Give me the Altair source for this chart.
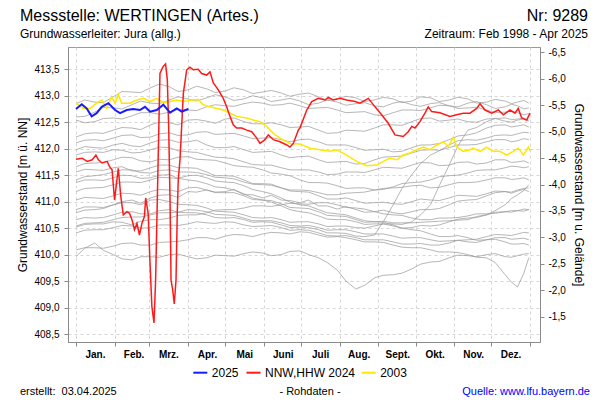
import json
import altair as alt
import pandas as pd

FONT = "Liberation Sans"

# ---------------- axis data ----------------
MONTH_STARTS = [0, 31, 59, 90, 120, 151, 181, 212, 243, 273, 304, 334, 365]
MONTH_LABELS = ["Jan.", "Feb.", "Mrz.", "Apr.", "Mai", "Juni", "Juli", "Aug.",
                "Sept.", "Okt.", "Nov.", "Dez.", ""]
LEFT_TICKS = [408.5, 409.0, 409.5, 410.0, 410.5, 411.0, 411.5, 412.0, 412.5, 413.0, 413.5]
RIGHT_TICKS = [-6.5, -6.0, -5.5, -5.0, -4.5, -4.0, -3.5, -3.0, -2.5, -2.0, -1.5]

# ---------------- gray yearly lines (day of year, m NN) ----------------
GRAY_DAYS = [0, 7, 15, 22, 30, 37, 45, 52, 60, 67, 75, 82, 90, 97, 105, 112, 120, 127, 135, 142,
             150, 157, 165, 172, 180, 187, 195, 202, 210, 217, 225, 232, 240, 247, 255, 262, 270,
             277, 285, 292, 300, 307, 315, 322, 330, 337, 345, 350, 355, 360, 364]
G1 = [412.85, 412.92, 412.88, 412.87, 412.98, 413.08, 413.07, 413.06, 413.15, 413.22, 413.17, 413.08, 413.11, 413.18, 413.13, 413.06, 413.09, 413.15, 413.11, 413.04, 413.07, 413.10, 413.05, 412.99, 413.03, 413.05, 412.98, 412.91, 412.94, 412.99, 412.96, 412.89, 412.92, 412.97, 412.94, 412.87, 412.90, 412.98, 412.96, 412.89, 412.92, 412.97, 412.94, 412.86, 412.88, 412.93, 412.90, 412.85, 412.88, 412.91, 412.86]
G2 = [412.60, 412.61, 412.69, 412.78, 412.77, 412.75, 412.83, 412.90, 412.86, 412.85, 412.92, 412.98, 412.94, 412.90, 412.96, 413.02, 412.98, 412.91, 412.94, 413.00, 412.96, 412.89, 412.92, 412.95, 412.90, 412.83, 412.86, 412.92, 412.88, 412.82, 412.85, 412.87, 412.81, 412.79, 412.86, 412.89, 412.83, 412.80, 412.85, 412.87, 412.81, 412.79, 412.86, 412.89, 412.83, 412.76, 412.79, 412.84, 412.81, 412.75, 412.77]
G3 = [412.54, 412.49, 412.51, 412.57, 412.58, 412.56, 412.62, 412.68, 412.68, 412.65, 412.69, 412.74, 412.73, 412.72, 412.79, 412.83, 412.81, 412.80, 412.85, 412.88, 412.86, 412.82, 412.83, 412.86, 412.81, 412.76, 412.77, 412.78, 412.73, 412.68, 412.69, 412.70, 412.64, 412.62, 412.68, 412.73, 412.73, 412.72, 412.77, 412.82, 412.81, 412.76, 412.77, 412.78, 412.73, 412.68, 412.69, 412.71, 412.68, 412.64, 412.66]
G4 = [412.22, 412.28, 412.30, 412.29, 412.35, 412.40, 412.39, 412.36, 412.45, 412.50, 412.49, 412.45, 412.54, 412.55, 412.52, 412.48, 412.56, 412.58, 412.51, 412.47, 412.47, 412.49, 412.45, 412.40, 412.41, 412.42, 412.35, 412.29, 412.30, 412.35, 412.34, 412.33, 412.39, 412.45, 412.45, 412.44, 412.51, 412.57, 412.58, 412.52, 412.54, 412.56, 412.51, 412.50, 412.56, 412.57, 412.52, 412.50, 412.54, 412.56, 412.52]
G5 = [412.11, 412.16, 412.17, 412.15, 412.20, 412.25, 412.26, 412.21, 412.22, 412.28, 412.30, 412.25, 412.26, 412.31, 412.32, 412.27, 412.28, 412.29, 412.24, 412.19, 412.20, 412.21, 412.17, 412.13, 412.17, 412.18, 412.13, 412.07, 412.07, 412.07, 412.02, 411.97, 411.98, 411.99, 411.94, 411.95, 412.02, 412.07, 412.07, 412.10, 412.17, 412.24, 412.26, 412.30, 412.39, 412.44, 412.45, 412.41, 412.43, 412.45, 412.41]
G6 = [411.98, 412.04, 412.02, 412.01, 412.07, 412.10, 412.05, 412.04, 412.11, 412.16, 412.17, 412.12, 412.13, 412.16, 412.07, 412.02, 412.02, 412.04, 411.98, 411.93, 411.94, 411.95, 411.88, 411.83, 411.85, 411.86, 411.79, 411.74, 411.75, 411.76, 411.71, 411.72, 411.79, 411.84, 411.85, 411.86, 411.92, 411.97, 411.98, 411.97, 412.02, 412.07, 412.07, 412.08, 412.13, 412.17, 412.17, 412.13, 412.15, 412.19, 412.17]
G7 = [411.88, 411.93, 411.94, 411.93, 411.98, 411.97, 411.92, 411.93, 411.98, 412.03, 412.02, 411.96, 411.94, 411.93, 411.88, 411.84, 411.83, 411.81, 411.75, 411.70, 411.69, 411.69, 411.64, 411.60, 411.60, 411.60, 411.56, 411.51, 411.52, 411.56, 411.56, 411.55, 411.60, 411.65, 411.64, 411.63, 411.69, 411.74, 411.73, 411.68, 411.69, 411.74, 411.75, 411.71, 411.73, 411.79, 411.79, 411.74, 411.75, 411.77, 411.73]
G8 = [411.66, 411.72, 411.73, 411.74, 411.79, 411.84, 411.83, 411.77, 411.75, 411.80, 411.79, 411.84, 411.85, 411.80, 411.79, 411.78, 411.73, 411.68, 411.66, 411.65, 411.60, 411.54, 411.52, 411.49, 411.41, 411.36, 411.36, 411.35, 411.30, 411.25, 411.26, 411.26, 411.22, 411.23, 411.28, 411.34, 411.36, 411.37, 411.41, 411.47, 411.49, 411.50, 411.54, 411.59, 411.60, 411.60, 411.64, 411.67, 411.66, 411.64, 411.66]
G9 = [411.56, 411.61, 411.60, 411.59, 411.64, 411.66, 411.58, 411.58, 411.64, 411.69, 411.69, 411.64, 411.64, 411.63, 411.56, 411.49, 411.49, 411.48, 411.41, 411.34, 411.34, 411.33, 411.26, 411.20, 411.19, 411.18, 411.11, 411.05, 411.05, 411.07, 411.02, 410.97, 410.98, 410.99, 410.96, 410.95, 411.00, 411.05, 411.03, 411.02, 411.07, 411.12, 411.11, 411.10, 411.15, 411.20, 411.19, 411.16, 411.20, 411.23, 411.19]
G10 = [411.41, 411.47, 411.49, 411.51, 411.56, 411.60, 411.60, 411.55, 411.54, 411.59, 411.60, 411.56, 411.56, 411.55, 411.51, 411.46, 411.45, 411.43, 411.37, 411.33, 411.32, 411.31, 411.26, 411.22, 411.22, 411.21, 411.17, 411.13, 411.13, 411.16, 411.17, 411.18, 411.22, 411.25, 411.26, 411.27, 411.30, 411.31, 411.26, 411.27, 411.32, 411.36, 411.36, 411.37, 411.41, 411.45, 411.45, 411.42, 411.43, 411.45, 411.41]
G11 = [411.36, 411.41, 411.41, 411.40, 411.45, 411.50, 411.49, 411.44, 411.45, 411.50, 411.51, 411.44, 411.41, 411.39, 411.34, 411.28, 411.26, 411.22, 411.15, 411.07, 411.03, 410.99, 410.92, 410.85, 410.81, 410.79, 410.73, 410.67, 410.66, 410.66, 410.62, 410.57, 410.58, 410.58, 410.54, 410.50, 410.51, 410.55, 410.54, 410.56, 410.62, 410.67, 410.69, 410.70, 410.75, 410.80, 410.81, 410.80, 410.83, 410.86, 410.85]
G12 = [411.19, 411.25, 411.26, 411.27, 411.32, 411.37, 411.37, 411.36, 411.41, 411.46, 411.45, 411.44, 411.49, 411.50, 411.45, 411.39, 411.37, 411.36, 411.30, 411.23, 411.19, 411.15, 411.07, 410.99, 410.94, 410.92, 410.85, 410.79, 410.77, 410.75, 410.69, 410.64, 410.62, 410.61, 410.56, 410.50, 410.47, 410.45, 410.39, 410.34, 410.34, 410.36, 410.32, 410.27, 410.28, 410.32, 410.32, 410.29, 410.30, 410.31, 410.28]
G13 = [410.79, 410.84, 410.85, 410.87, 410.94, 410.98, 410.98, 410.94, 411.03, 411.04, 411.00, 410.95, 410.94, 410.93, 410.88, 410.82, 410.81, 410.80, 410.75, 410.70, 410.69, 410.70, 410.66, 410.61, 410.62, 410.62, 410.58, 410.53, 410.54, 410.54, 410.51, 410.50, 410.54, 410.58, 410.58, 410.57, 410.62, 410.75, 410.94, 411.30, 411.69, 412.05, 412.35, 412.40, 412.51, 412.57, 412.58, 412.55, 412.56, 412.58, 412.54]
G14 = [410.66, 410.70, 410.69, 410.70, 410.75, 410.80, 410.81, 410.77, 410.77, 410.83, 410.85, 410.80, 410.79, 410.79, 410.75, 410.70, 410.69, 410.70, 410.66, 410.61, 410.62, 410.61, 410.56, 410.51, 410.52, 410.51, 410.47, 410.41, 410.41, 410.40, 410.35, 410.34, 410.37, 410.62, 410.94, 411.25, 411.51, 411.72, 411.88, 411.96, 412.07, 412.15, 412.17, 412.16, 412.20, 412.25, 412.26, 412.25, 412.28, 412.31, 412.30]
G15 = [410.52, 410.57, 410.58, 410.58, 410.62, 410.61, 410.56, 410.63, 410.66, 410.66, 410.69, 410.74, 410.75, 410.75, 410.79, 410.84, 410.85, 410.85, 410.88, 410.92, 410.92, 410.91, 410.94, 410.97, 410.96, 410.95, 410.98, 410.98, 410.94, 410.89, 410.88, 410.86, 410.81, 410.77, 410.75, 410.74, 410.69, 410.66, 410.66, 410.69, 410.69, 410.70, 410.73, 410.77, 410.77, 410.78, 410.81, 410.83, 410.83, 410.82, 410.85]
G16 = [410.41, 410.46, 410.47, 410.47, 410.51, 410.55, 410.54, 410.50, 410.51, 410.56, 410.56, 410.55, 410.58, 410.62, 410.60, 410.59, 410.62, 410.61, 410.56, 410.53, 410.54, 410.55, 410.51, 410.46, 410.47, 410.46, 410.41, 410.36, 410.35, 410.36, 410.32, 410.28, 410.28, 410.28, 410.24, 410.20, 410.20, 410.21, 410.18, 410.18, 410.22, 410.27, 410.28, 410.29, 410.34, 410.38, 410.37, 410.36, 410.39, 410.42, 410.41]
G17 = [409.96, 410.12, 410.22, 410.08, 410.00, 409.92, 409.90, 409.96, 409.96, 409.95, 410.00, 410.01, 409.96, 409.92, 409.94, 409.99, 409.98, 409.97, 410.02, 410.05, 410.03, 409.98, 410.00, 410.06, 410.07, 410.00, 409.94, 409.85, 409.71, 409.50, 409.35, 409.42, 409.56, 409.61, 409.62, 409.65, 409.73, 409.82, 409.86, 409.87, 409.94, 409.99, 409.98, 409.96, 410.00, 410.02, 409.96, 409.95, 409.98, 410.01, 410.02]
G18 = [410.09, 410.13, 410.13, 410.12, 410.16, 410.21, 410.22, 410.18, 410.18, 410.23, 410.24, 410.25, 410.28, 410.32, 410.32, 410.29, 410.35, 410.38, 410.37, 410.34, 410.39, 410.42, 410.41, 410.39, 410.43, 410.42, 410.37, 410.33, 410.34, 410.32, 410.28, 410.24, 410.24, 410.23, 410.18, 410.14, 410.13, 410.13, 410.09, 410.05, 410.05, 410.04, 410.00, 409.95, 409.94, 409.85, 409.62, 409.48, 409.39, 409.65, 409.94]
G19 = [410.54, 410.59, 410.60, 410.61, 410.66, 410.70, 410.71, 410.71, 410.75, 410.79, 410.79, 410.80, 410.85, 410.84, 410.81, 410.76, 410.75, 410.74, 410.69, 410.64, 410.64, 410.64, 410.60, 410.55, 410.54, 410.55, 410.51, 410.46, 410.47, 410.47, 410.43, 410.39, 410.39, 410.39, 410.35, 410.31, 410.32, 410.32, 410.28, 410.25, 410.26, 410.27, 410.24, 410.23, 410.28, 410.29, 410.24, 410.20, 410.20, 410.21, 410.18]
G20 = [410.85, 410.90, 410.90, 410.89, 410.94, 411.00, 411.03, 410.97, 411.07, 411.12, 411.13, 411.08, 411.19, 411.18, 411.22, 411.18, 411.19, 411.23, 411.13, 411.13, 411.07, 411.12, 411.03, 411.02, 410.98, 411.03, 410.92, 410.92, 410.86, 410.91, 410.85, 410.80, 410.81, 410.84, 410.79, 410.77, 410.81, 410.85, 410.85, 410.87, 410.94, 411.01, 411.03, 411.04, 411.11, 411.17, 411.19, 411.18, 411.22, 411.25, 411.26]
G21 = [411.03, 411.08, 411.07, 411.06, 411.11, 411.16, 411.15, 411.12, 411.19, 411.23, 411.22, 411.19, 411.26, 411.27, 411.22, 411.17, 411.17, 411.17, 411.11, 411.04, 411.03, 411.02, 410.96, 410.89, 410.88, 410.87, 410.81, 410.74, 410.73, 410.72, 410.66, 410.61, 410.62, 410.63, 410.60, 410.60, 410.60, 410.61, 410.62, 410.63, 410.64, 410.65, 410.66, 410.72, 410.75, 410.83, 410.94, 411.06, 411.13, 411.21, 411.32]
GRAY_LINES = [G1, G2, G3, G4, G5, G6, G7, G8, G9, G10, G11, G12, G13, G14, G15, G16, G17, G18, G19, G20, G21]
assert all(len(g) == len(GRAY_DAYS) for g in GRAY_LINES), [len(g) for g in GRAY_LINES]

# ---------------- highlighted years ----------------
Y2025_DAYS = [0, 4.6, 8.6, 12.6, 16.6, 20.7, 26, 31.4, 35.4, 40.8, 46, 51.4, 55.5, 59.5, 64.9, 70.2, 75.6, 81, 85, 90.3]
Y2025_VALUES = [412.75, 412.84, 412.76, 412.61, 412.67, 412.79, 412.86, 412.73, 412.67, 412.73, 412.75, 412.73, 412.79, 412.70, 412.73, 412.83, 412.68, 412.76, 412.70, 412.75]

Y2024_DAYS = [0, 5, 9, 13, 16, 18, 21, 25, 27, 29, 31, 34, 36, 38, 41, 43, 45, 47, 49, 51, 53, 55, 56, 58,
              59.5, 61, 62.7, 64, 65.7, 67.5, 70, 72, 73.4, 74.5, 75.6, 76.4, 77.7, 79, 80.4, 81.4, 82.2, 83.6,
              86.3, 89, 91.6, 94.3, 98.3, 101, 105, 107.7, 110.4, 114.4, 118.4, 121.1, 123.8, 126.4, 129.2,
              133.2, 137.2, 141.2, 145.3, 147.9, 151.9, 154.6, 158.6, 164, 169.4, 172, 174.7, 178.7, 180,
              185.5, 189.5, 194.8, 200.2, 202.8, 206.8, 212.2, 217.6, 224.3, 228.3, 235, 240.4, 245.7, 251,
              256.4, 263.1, 267.1, 269.9, 272.5, 276.5, 280.5, 283.2, 285.9, 292.6, 300.6, 306, 311.3, 316.7,
              322.1, 324.8, 328.8, 334.2, 339.5, 343.5, 348.9, 352.9, 355.5, 358.3, 362.3, 365]
Y2024_VALUES = [411.80, 411.82, 411.76, 411.79, 411.88, 411.79, 411.73, 411.76, 411.66, 411.60, 411.03, 411.63,
                411.10, 410.75, 410.81, 410.78, 410.66, 410.47, 410.59, 410.37, 410.59, 410.72, 411.07, 410.78,
                409.84, 409.02, 408.71, 409.52, 411.41, 413.42, 413.55, 413.60, 413.30, 412.42, 411.03, 409.52,
                409.34, 409.07, 409.52, 410.78, 411.41, 411.79, 413.05, 413.49, 413.54, 413.49, 413.50, 413.42,
                413.39, 413.45, 413.24, 413.11, 412.95, 412.79, 412.61, 412.45, 412.39, 412.39, 412.35, 412.32,
                412.20, 412.10, 412.17, 412.26, 412.17, 412.13, 412.07, 412.03, 412.10, 412.35, 412.39, 412.73,
                412.89, 412.95, 412.92, 412.97, 412.92, 412.95, 412.92, 412.89, 412.86, 412.95, 412.79, 412.64,
                412.48, 412.26, 412.23, 412.32, 412.42, 412.39, 412.51, 412.67, 412.79, 412.70, 412.68, 412.61,
                412.64, 412.67, 412.67, 412.76, 412.85, 412.73, 412.67, 412.73, 412.64, 412.73, 412.67, 412.76,
                412.58, 412.54, 412.67]

Y2003_DAYS = [0, 5.9, 11.3, 16.6, 20.7, 24.7, 28.7, 31.4, 34, 36.7, 43.4, 48.8, 54.1, 59.5, 64.9, 70.2, 75.6,
              81, 86.3, 93, 98.3, 102.3, 107.7, 113.1, 118.4, 123.8, 129.2, 137.2, 142.5, 147.9, 153.3, 158.6,
              164, 172, 180, 188.1, 196.1, 204.2, 209.6, 217.6, 225.6, 233.7, 241.7, 247, 252.4, 257.8, 263.1,
              268.5, 273.9, 279.2, 284.6, 290, 295.3, 299.3, 303.3, 306, 311.3, 316.7, 319.4, 324.8, 330.1,
              335.5, 340.8, 346.2, 351.5, 355.5, 359.6, 363.6, 365]
Y2003_VALUES = [412.86, 412.76, 412.76, 412.86, 412.92, 412.76, 412.98, 412.86, 413.02, 412.86, 412.86, 412.92,
                412.95, 412.89, 412.95, 412.87, 412.89, 412.92, 412.89, 412.92, 412.93, 412.83, 412.79, 412.76,
                412.73, 412.67, 412.61, 412.58, 412.54, 412.51, 412.42, 412.29, 412.20, 412.10, 412.09, 412.01,
                411.98, 411.95, 411.98, 411.88, 411.76, 411.68, 411.69, 411.76, 411.82, 411.79, 411.88, 411.92,
                411.98, 412.03, 411.98, 412.07, 412.13, 412.04, 412.22, 412.04, 411.95, 411.98, 412.01, 411.95,
                412.03, 411.95, 411.95, 411.88, 411.95, 412.01, 411.88, 412.03, 411.96]

SERIES = ["2025", "NNW,HHW 2024", "2003"]
COLORS = ["#1a1aff", "#ff1a1a", "#ffe800"]

# ---------------- tables ----------------
gray_rows = []
for i, line in enumerate(GRAY_LINES):
    for d, v in zip(GRAY_DAYS, line):
        gray_rows.append({"id": f"g{i + 1}", "day": d, "level": v})
gray_df = pd.DataFrame(gray_rows)

df_2025 = pd.DataFrame({"series": SERIES[0], "day": Y2025_DAYS, "level": Y2025_VALUES})
df_2024 = pd.DataFrame({"series": SERIES[1], "day": Y2024_DAYS, "level": Y2024_VALUES})
df_2003 = pd.DataFrame({"series": SERIES[2], "day": Y2003_DAYS, "level": Y2003_VALUES})

# ---------------- encodings ----------------
AX_GRAY = "#8a8a8a"
GRID = "#d6d6d6"

x_label_expr = f"{json.dumps(MONTH_LABELS)}[indexof({json.dumps(MONTH_STARTS)}, datum.value)]"
X = alt.X("day:Q",
          scale=alt.Scale(domain=[-6.43, 373.0], nice=False, zero=False),
          axis=alt.Axis(values=MONTH_STARTS, labelExpr=x_label_expr, title=None,
                        grid=True, gridDash=[3, 3], gridColor=GRID,
                        tickSize=4, tickColor=AX_GRAY, domainColor=AX_GRAY,
                        labelOffset=19, labelFlush=False, labelOverlap=False, labelBound=False,
                        labelFontSize=10, labelFontWeight="bold", labelPadding=3))

Y = alt.Y("level:Q",
          scale=alt.Scale(domain=[408.35, 413.92], nice=False, zero=False),
          axis=alt.Axis(orient="left", values=LEFT_TICKS,
                        labelExpr="replace(format(datum.value, '.1f'), '.', ',')",
                        title="Grundwasserstand [m ü. NN]", titleFontSize=12, titlePadding=4,
                        grid=True, gridDash=[3, 3], gridColor=GRID,
                        tickSize=4, tickColor=AX_GRAY, domainColor=AX_GRAY,
                        labelFontSize=10, labelPadding=5))

COLOR = alt.Color("series:N", scale=alt.Scale(domain=SERIES, range=COLORS), legend=None)

gray = alt.Chart(gray_df).mark_line(color="#969696", strokeWidth=0.9, opacity=0.78).encode(
    x=X, y=Y, detail="id:N")
yellow = alt.Chart(df_2003).mark_line(strokeWidth=1.5).encode(x=X, y=Y, color=COLOR)
red = alt.Chart(df_2024).mark_line(strokeWidth=1.5).encode(x=X, y=Y, color=COLOR)
blue = alt.Chart(df_2025).mark_line(strokeWidth=2).encode(x=X, y=Y, color=COLOR)

inner = alt.layer(gray, yellow, red, blue)

right_axis = alt.Chart(pd.DataFrame({"r": RIGHT_TICKS})).mark_point(opacity=0).encode(
    y=alt.Y("r:Q",
            scale=alt.Scale(domain=[-1.02, -6.604], nice=False, zero=False),
            axis=alt.Axis(orient="right", values=RIGHT_TICKS,
                          labelExpr="'-' + replace(format(abs(datum.value), '.1f'), '.', ',')",
                          title="Grundwasserstand [m u. Gelände]", titleFontSize=12, titlePadding=6,
                          grid=False, tickSize=4, tickColor=AX_GRAY, domainColor=AX_GRAY,
                          labelFontSize=10, labelPadding=4)))


def label(txt, x, y, size, align="left", color="black", weight="normal"):
    return alt.Chart(pd.DataFrame({"t": [txt]})).mark_text(
        align=align, baseline="alphabetic", fontSize=size, color=color, fontWeight=weight, font=FONT
    ).encode(x=alt.value(x), y=alt.value(y), text="t:N")


def legend_item(name, color, x0):
    swatch = alt.Chart(pd.DataFrame({"s": [name]})).mark_rule(color=color, strokeWidth=2).encode(
        x=alt.value(x0), x2=alt.value(x0 + 14), y=alt.value(325.7))
    return [swatch, label(name, x0 + 18.5, 329.8, 12)]


texts = [
    label("Messstelle: WERTINGEN (Artes.)", -48, -26, 16),
    label("Nr: 9289", 520, -26, 16, align="right"),
    label("Grundwasserleiter: Jura (allg.)", -48, -9, 12),
    label("Zeitraum: Feb 1998 - Apr 2025", 520, -9, 12, align="right"),
    label("erstellt:\u00a0 03.04.2025", -48, 348, 11),
    label("- Rohdaten -", 242, 348, 11, align="center"),
    label("Quelle: www.lfu.bayern.de", 522, 348, 11, align="right", color="#0000ff"),
]
legend_layers = (legend_item(SERIES[0], COLORS[0], 125.3)
                 + legend_item(SERIES[1], COLORS[1], 178.5)
                 + legend_item(SERIES[2], COLORS[2], 293.7))

chart = alt.layer(inner, right_axis, *texts, *legend_layers).resolve_scale(y="independent").properties(
    width=472, height=295,
    autosize=alt.AutoSizeParams(type="none"),
    padding={"left": 60, "top": 39, "right": 52, "bottom": 58},
).configure(font=FONT).configure_view(stroke="#9a9a9a").configure_axis(
    labelColor="black", titleColor="black", titleFontWeight="normal", labelFont=FONT, titleFont=FONT
)

chart.save("out.html", embed_options={"renderer": "svg", "actions": False})
